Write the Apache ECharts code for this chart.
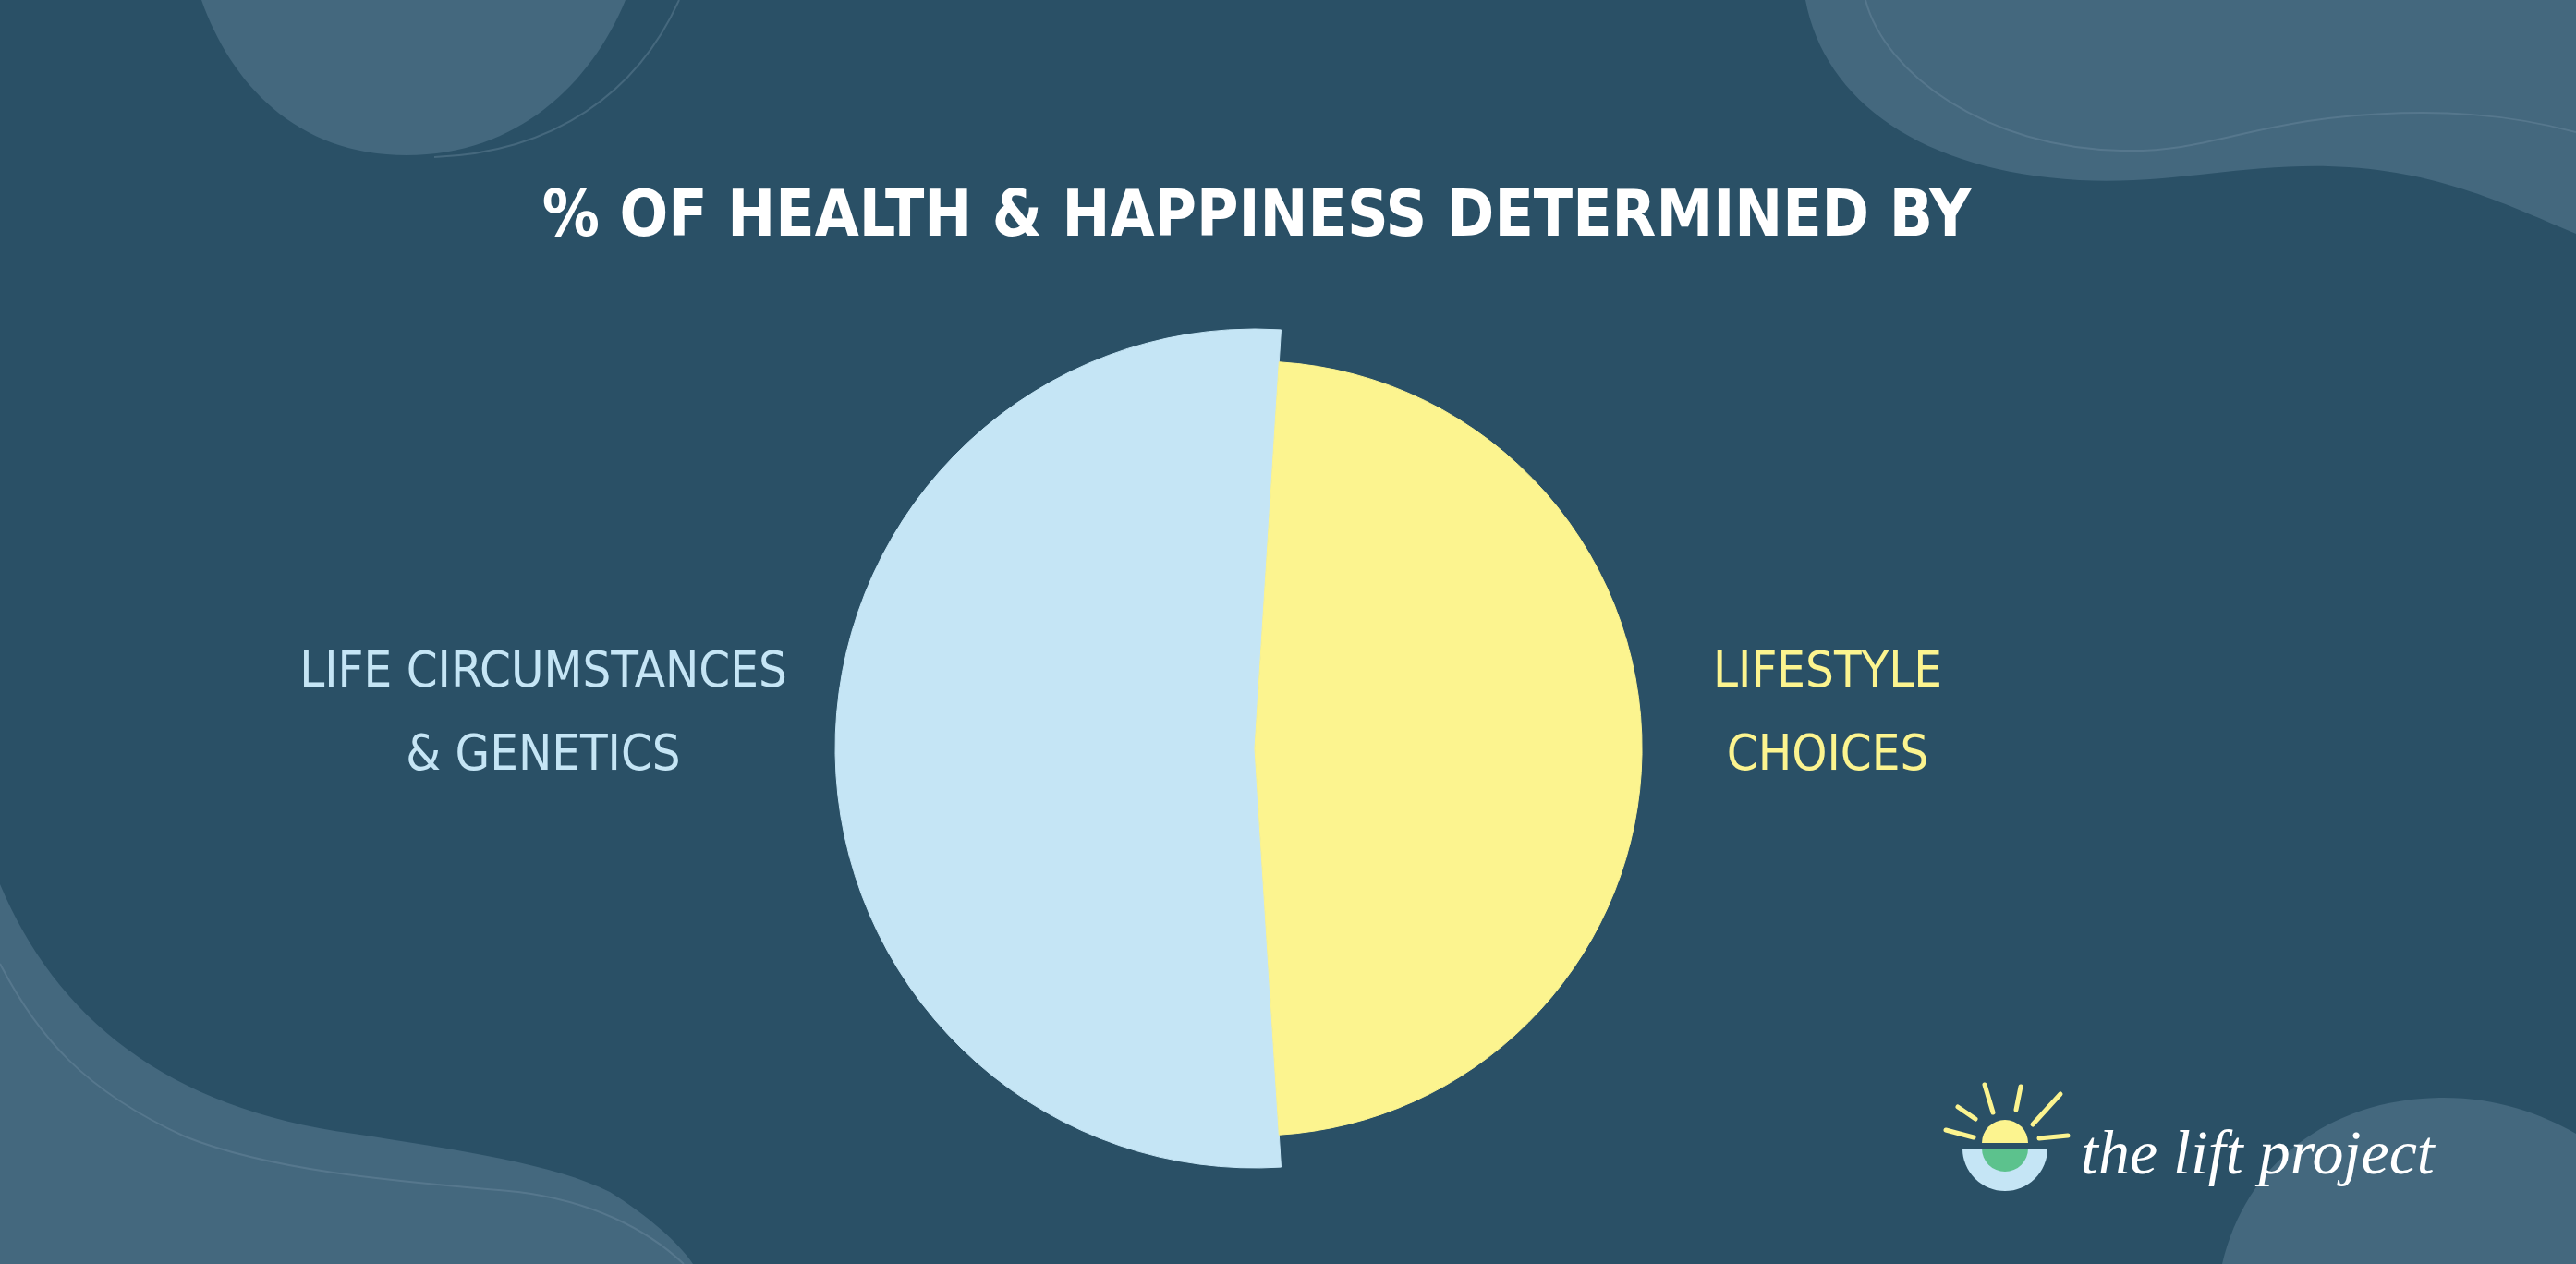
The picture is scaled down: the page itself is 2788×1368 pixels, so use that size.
<!DOCTYPE html>
<html><head><meta charset="utf-8">
<script src="https://cdn.jsdelivr.net/npm/echarts@6/dist/echarts.min.js"></script>
<style>html,body{margin:0;padding:0;background:#2a5066}#c{width:2788px;height:1368px}</style>
</head><body><div id="c"></div>
<script>
// ---- data ----
const titleText = '% OF HEALTH & HAPPINESS DETERMINED BY';
const categories = ['LIFE CIRCUMSTANCES\n& GENETICS', 'LIFESTYLE\nCHOICES'];
const values = [52, 48];
const sliceColors = ['#c5e5f5', '#fcf48f'];
const logoText = 'the lift project';

// ---- styling ----
const BG = '#2a5066';
const BLOB = '#44687e';
const FONT = '"DejaVu Sans Condensed", "DejaVu Sans", sans-serif';
const labelWidths = [600, 300];

// decorative background shapes
const blobPaths = {
  blobTL: 'M218,0 C250,90 320,168 440,168 C560,168 640,90 677,0 Z',
  lineTL: 'M735,0 C690,100 600,165 470,170',
  blobTR: 'M1954,0 C1975,110 2080,185 2250,195 C2350,200 2420,178 2520,180 C2640,183 2720,225 2788,253 L2788,0 Z',
  lineTR: 'M2019,0 C2040,80 2150,160 2296,163 C2380,165 2420,140 2520,128 C2640,115 2720,125 2788,143',
  blobBL: 'M0,957 C60,1100 180,1200 383,1227 C500,1245 600,1260 660,1290 C700,1315 735,1345 750,1368 L0,1368 Z',
  lineBL: 'M0,1043 C40,1120 90,1180 200,1230 C300,1270 450,1280 561,1290 C640,1300 700,1330 740,1368',
  blobBR: 'M2405,1368 C2430,1260 2520,1190 2640,1188 C2700,1187 2750,1205 2788,1227 L2788,1368 Z'
};
Object.keys(blobPaths).forEach(function (k) {
  echarts.graphic.registerShape(k, echarts.graphic.extendPath(blobPaths[k], {}));
});

const chart = echarts.init(document.getElementById('c'), null, {renderer: 'canvas'});

function ray(x1, y1, x2, y2) {
  return {type: 'line', shape: {x1: x1, y1: y1, x2: x2, y2: y2}, style: {stroke: '#fcf48f', lineWidth: 5, lineCap: 'round'}, z: 10};
}
const faint = {stroke: 'rgba(120,150,170,0.35)', lineWidth: 2, fill: null};

const option = {
  backgroundColor: BG,
  animation: false,
  title: {
    text: titleText,
    left: 1355,
    textAlign: 'center',
    top: 198,
    textStyle: {color: '#ffffff', fontFamily: FONT, fontSize: 69, fontWeight: 'bold'}
  },
  graphic: [
    {type: 'blobTL', style: {fill: BLOB}, z: -10},
    {type: 'lineTL', style: faint, z: -9},
    {type: 'blobTR', style: {fill: BLOB}, z: -10},
    {type: 'lineTR', style: faint, z: -9},
    {type: 'blobBL', style: {fill: BLOB}, z: -10},
    {type: 'lineBL', style: faint, z: -9},
    {type: 'blobBR', style: {fill: BLOB}, z: -10},
    // logo
    {type: 'sector', shape: {cx: 2170, cy: 1243, r: 46, startAngle: 0, endAngle: Math.PI}, style: {fill: '#c5e5f5'}, z: 10},
    {type: 'sector', shape: {cx: 2170, cy: 1243, r: 25, startAngle: 0, endAngle: Math.PI}, style: {fill: '#5cc28d'}, z: 11},
    {type: 'sector', shape: {cx: 2170, cy: 1237, r: 25, startAngle: Math.PI, endAngle: Math.PI * 2}, style: {fill: '#fcf48f'}, z: 11},
    ray(2106, 1223, 2136, 1231),
    ray(2119, 1198, 2138, 1211),
    ray(2148, 1174, 2157, 1204),
    ray(2187, 1176, 2182, 1201),
    ray(2230, 1184, 2200, 1217),
    ray(2207, 1232, 2238, 1229),
    {type: 'text', x: 2252, y: 1218, style: {text: logoText, fill: '#ffffff', font: 'italic 68px "Liberation Serif", "DejaVu Serif", serif'}, z: 10}
  ],
  series: [{
    type: 'pie',
    roseType: 'radius',
    center: [1358, 810],
    radius: [0, 454],
    startAngle: 273.6,
    clockwise: true,
    avoidLabelOverlap: false,
    emphasis: {disabled: true},
    labelLine: {show: false, length: 1, length2: 10},
    label: {
      show: true,
      position: 'outside',
      distanceToLabelLine: 5,
      padding: [0, 0, 72, 0],
      formatter: function (p) {
        return p.name.split('\n').map(function (s) { return '{a|' + s + '}'; }).join('\n');
      }
    },
    data: categories.map(function (name, i) {
      return {
        name: name,
        value: values[i],
        itemStyle: {color: sliceColors[i], borderColor: sliceColors[i], borderWidth: 1},
        label: {
          rich: {a: {width: labelWidths[i], align: 'center', color: sliceColors[i], fontFamily: FONT, fontSize: 54, lineHeight: 90}}
        }
      };
    })
  }]
};
chart.setOption(option);
</script>
</body></html>
